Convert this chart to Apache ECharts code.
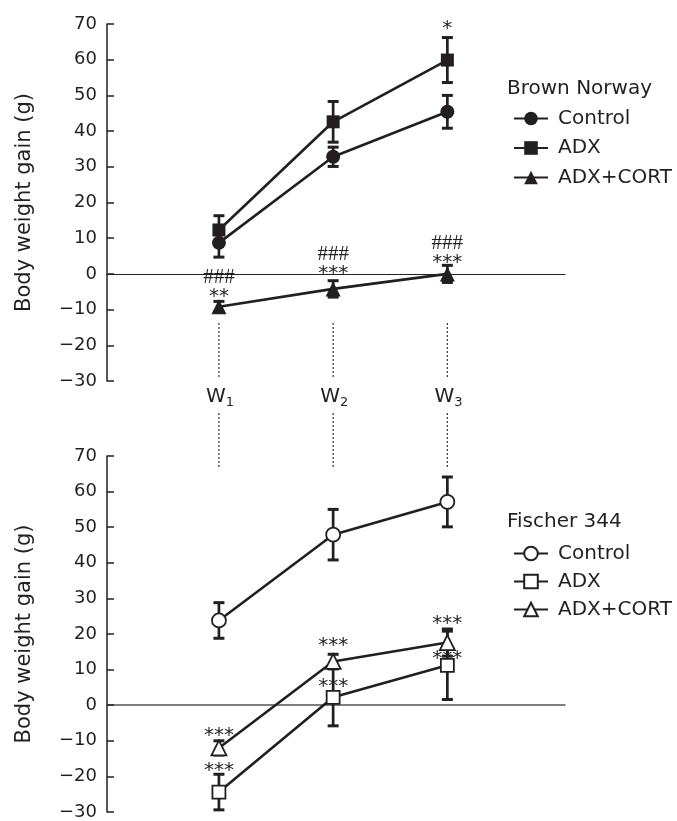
<!DOCTYPE html>
<html><head><meta charset="utf-8">
<script src="https://cdn.jsdelivr.net/npm/echarts@6/dist/echarts.min.js"></script>
<style>html,body{margin:0;padding:0;background:#fff}#c{width:677px;height:821px}</style>
</head><body><div id="c"></div>
<script>
// ---- data ----
const weeks = ['W', 'W', 'W'];
const weekSubs = ['1', '2', '3'];
const weekX = [1, 2, 3];
const yMin = -30, yMax = 70, yStep = 10;
const groupTitles = ['Brown Norway', 'Fischer 344'];
const groupNames = ['Control', 'ADX', 'ADX+CORT'];

const bnControl = [8.7, 32.8, 45.4];
const bnControlSem = [4.0, 2.7, 4.6];
const bnAdx = [12.3, 42.6, 59.9];
const bnAdxSem = [4.0, 5.7, 6.3];
const bnCort = [-9.2, -4.2, 0.0];
const bnCortSem = [1.5, 2.3, 2.4];

const fControl = [23.8, 47.9, 57.1];
const fControlSem = [5.0, 7.1, 7.0];
const fAdx = [-24.4, 2.2, 11.2];
const fAdxSem = [5.0, 8.0, 9.6];
const fCort = [-12.0, 12.3, 17.6];
const fCortSem = [2.0, 2.0, 3.8];

const bnAdxStars = ['', '', '*'];
const bnCortStars = ['**', '***', '***'];
const bnCortHashes = ['###', '###', '###'];
const fAdxStars = ['***', '***', '***'];
const fCortStars = ['***', '***', '***'];

// ---- style ----
const INK = '#231f20';
const FONT = 'DejaVu Sans';
const STAR_FONT = '20px "DejaVu Sans"';
const HASH_FONT = '21px "Liberation Serif"';
const STAR_ADJ = 4;

const chart = echarts.init(document.getElementById('c'), null, {renderer: 'canvas'});

function pts(vals) { return vals.map((v, i) => [weekX[i], v]); }
function errData(vals, sems) { return vals.map((v, i) => [weekX[i], v, sems[i]]); }

function errSeries(g, vals, sems) {
  return {
    type: 'custom', xAxisIndex: g, yAxisIndex: g, z: 2, silent: true,
    data: errData(vals, sems),
    renderItem(params, api) {
      const x = api.value(0), m = api.value(1), s = api.value(2);
      const t = api.coord([x, m + s]), b = api.coord([x, m - s]);
      const hw = 5.5;
      const st = {stroke: INK, lineWidth: 2.7};
      const cs = {stroke: INK, lineWidth: 3};
      return {type: 'group', children: [
        {type: 'line', shape: {x1: t[0], y1: t[1], x2: b[0], y2: b[1]}, style: st},
        {type: 'line', shape: {x1: t[0] - hw, y1: t[1], x2: t[0] + hw, y2: t[1]}, style: cs},
        {type: 'line', shape: {x1: b[0] - hw, y1: b[1], x2: b[0] + hw, y2: b[1]}, style: cs}
      ]};
    }
  };
}

function lineSeries(g, prefix, name, vals, symbol, size, open) {
  return {
    type: 'line', name: prefix + '|' + name, xAxisIndex: g, yAxisIndex: g, z: 3,
    data: pts(vals), symbol: symbol, symbolSize: size, showAllSymbol: true,
    lineStyle: {color: INK, width: 2.6},
    itemStyle: open ? {color: '#fff', borderColor: INK, borderWidth: 1.8} : {color: INK, borderWidth: 0},
    emphasis: {disabled: true}, silent: true
  };
}

function annSeries(g, vals, layers) {
  return {
    type: 'custom', xAxisIndex: g, yAxisIndex: g, z: 5, silent: true,
    data: pts(vals),
    renderItem(params, api) {
      const i = params.dataIndex;
      const p = api.coord([api.value(0), api.value(1)]);
      const children = [];
      layers.forEach(L => {
        const t = L.texts[i];
        if (!t) return;
        children.push({type: 'text', x: p[0], y: p[1] + L.dy[i] + (L.star ? STAR_ADJ : 0),
          style: {text: t, font: L.star ? STAR_FONT : HASH_FONT, fill: INK, align: 'center', verticalAlign: 'middle'}});
      });
      return {type: 'group', children};
    }
  };
}

// week markers: dotted guides and W labels, placed under the top panel
const weekSeries = {
  type: 'custom', xAxisIndex: 0, yAxisIndex: 0, z: 1, silent: true,
  data: weekX.map(x => [x, yMin]),
  renderItem(params, api) {
    const i = params.dataIndex;
    const p = api.coord([api.value(0), api.value(1)]);
    const ds = {stroke: '#333', lineWidth: 1.2, lineDash: [2, 2]};
    return {type: 'group', children: [
      {type: 'line', shape: {x1: p[0], y1: p[1] - 58, x2: p[0], y2: p[1] - 3}, style: ds},
      {type: 'line', shape: {x1: p[0], y1: p[1] + 32, x2: p[0], y2: p[1] + 87}, style: ds},
      {type: 'text', x: p[0] - 3, y: p[1] + 16, style: {text: weeks[i], font: '20px "DejaVu Sans"', fill: INK, align: 'center', verticalAlign: 'middle'}},
      {type: 'text', x: p[0] + 11, y: p[1] + 22, style: {text: weekSubs[i], font: '13px "DejaVu Sans"', fill: INK, align: 'center', verticalAlign: 'middle'}}
    ]};
  }
};

function xAx(g, zeroColor, zeroWidth) {
  return {
    type: 'value', gridIndex: g, min: 0.02, max: 4.03,
    axisLine: {show: true, onZero: true, lineStyle: {color: zeroColor, width: zeroWidth}},
    axisTick: {show: false}, axisLabel: {show: false}, splitLine: {show: false}
  };
}
function yAx(g) {
  return {
    type: 'value', gridIndex: g, min: yMin, max: yMax, interval: yStep,
    name: 'Body weight gain (g)', nameLocation: 'middle', nameGap: 72,
    nameTextStyle: {fontFamily: FONT, fontSize: 21, color: INK},
    axisLine: {show: true, onZero: false, lineStyle: {color: INK, width: 1.5}},
    axisTick: {show: true, inside: true, length: 7, lineStyle: {color: INK, width: 1.5}},
    axisLabel: {fontFamily: FONT, fontSize: 18, color: INK, margin: 10,
      formatter: v => String(v).replace('-', '\u2212')},
    splitLine: {show: false}
  };
}

function legendFor(prefix, top, gap) {
  return {
    data: groupNames.map(n => prefix + '|' + n),
    orient: 'vertical', left: 513, top: top, padding: 0,
    itemWidth: 34, itemHeight: 17, itemGap: gap, selectedMode: false,
    formatter: n => n.split('|')[1],
    textStyle: {fontFamily: FONT, fontSize: 20, color: INK, padding: [0, 0, 0, 5]}
  };
}

chart.setOption({
  animation: false,
  backgroundColor: '#fff',
  grid: [
    {left: 107, top: 24, width: 458, height: 357},
    {left: 107, top: 456, width: 458, height: 357}
  ],
  xAxis: [xAx(0, '#222', 1.2), xAx(1, '#555', 1.6)],
  yAxis: [yAx(0), yAx(1)],
  legend: [legendFor('BN', 108.5, 9.5), legendFor('F', 543.5, 8)],
  graphic: [
    {type: 'text', x: 507, y: 89, style: {text: groupTitles[0], font: '20px "DejaVu Sans"', fill: INK, verticalAlign: 'middle'}},
    {type: 'text', x: 507, y: 522, style: {text: groupTitles[1], font: '20px "DejaVu Sans"', fill: INK, verticalAlign: 'middle'}}
  ],
  series: [
    weekSeries,
    errSeries(0, bnControl, bnControlSem),
    errSeries(0, bnAdx, bnAdxSem),
    errSeries(0, bnCort, bnCortSem),
    lineSeries(0, 'BN', groupNames[0], bnControl, 'circle', 14, false),
    lineSeries(0, 'BN', groupNames[1], bnAdx, 'rect', 13, false),
    lineSeries(0, 'BN', groupNames[2], bnCort, 'triangle', 15, false),
    annSeries(0, bnAdx, [{texts: bnAdxStars, star: true, dy: [0, 0, -35]}]),
    annSeries(0, bnCort, [
      {texts: bnCortStars, star: true, dy: [-14, -19, -15]},
      {texts: bnCortHashes, star: false, dy: [-29, -34, -30]}
    ]),
    errSeries(1, fControl, fControlSem),
    errSeries(1, fAdx, fAdxSem),
    errSeries(1, fCort, fCortSem),
    lineSeries(1, 'F', groupNames[0], fControl, 'circle', 14, true),
    lineSeries(1, 'F', groupNames[1], fAdx, 'rect', 13, true),
    lineSeries(1, 'F', groupNames[2], fCort, 'triangle', 15, true),
    annSeries(1, fAdx, [{texts: fAdxStars, star: true, dy: [-25, -15, -11]}]),
    annSeries(1, fCort, [{texts: fCortStars, star: true, dy: [-16, -20, -23]}])
  ]
});
</script>
</body></html>
